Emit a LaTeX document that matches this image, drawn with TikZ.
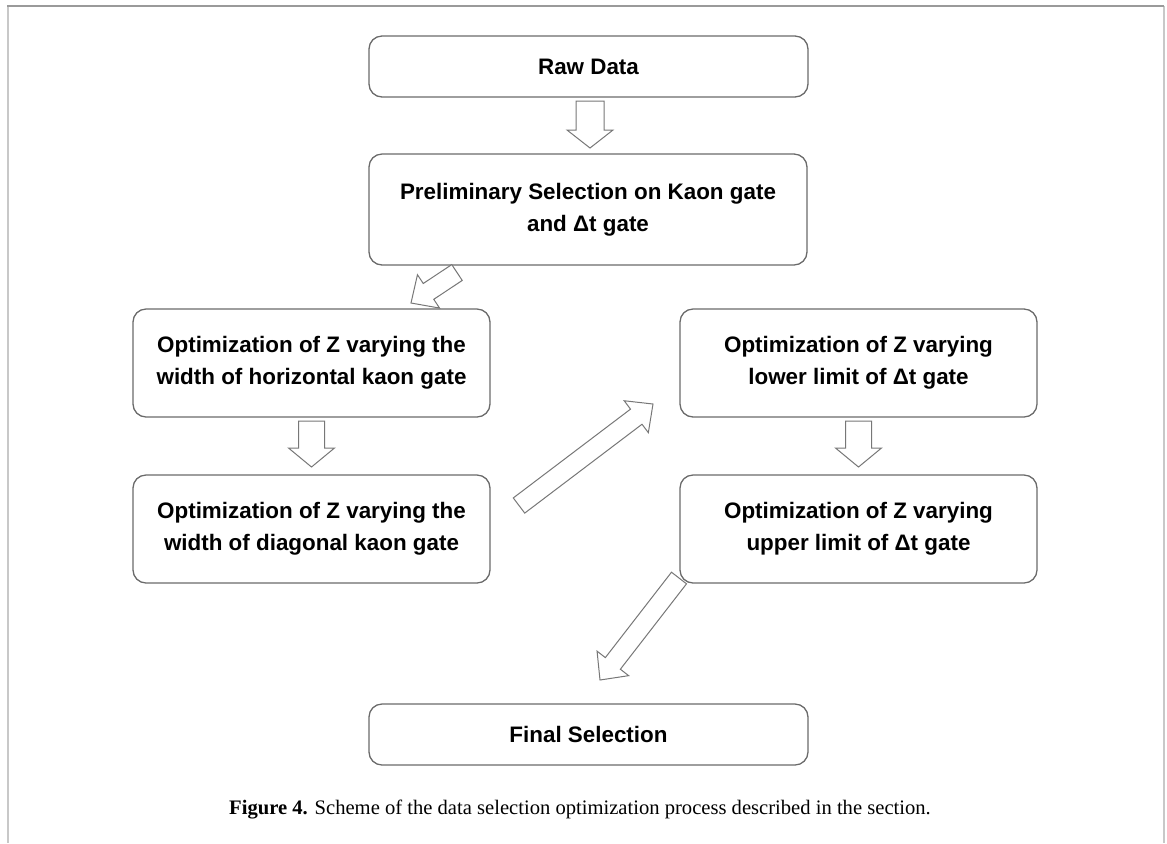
\documentclass[tikz,border=0pt]{standalone}
\usepackage{fontspec}
\setmainfont{Liberation Serif}
\setsansfont{Liberation Sans}
\usetikzlibrary{calc}

\definecolor{boxgray}{HTML}{6A6A6A}
\definecolor{arrgray}{HTML}{777777}
\definecolor{topgray}{HTML}{9A9A9A}
\definecolor{sidegray}{HTML}{C8C8C8}

\tikzset{
  stagebox/.style={draw=boxgray,line width=0.65pt,rounded corners=6.5pt,
    inner sep=0pt,outer sep=0pt,align=center,
    font=\sffamily\bfseries\fontsize{11.2pt}{16pt}\selectfont},
  blk/.style={draw=arrgray,line width=0.5pt,line join=miter,fill=white}
}

% hollow block arrow: tail, tip, shaft half width, head half width, head length
\newcommand{\blockarrow}[5]{%
  \coordinate (ba-t) at (#1);%
  \coordinate (ba-p) at (#2);%
  \coordinate (ba-h) at ($(ba-p)!#5!(ba-t)$);%
  \draw[blk] ($(ba-t)!#3!90:(ba-p)$) -- ($(ba-h)!#3!-90:(ba-t)$)
    -- ($(ba-h)!#4!-90:(ba-t)$) -- (ba-p) -- ($(ba-h)!#4!90:(ba-t)$)
    -- ($(ba-h)!#3!90:(ba-t)$) -- ($(ba-t)!#3!-90:(ba-p)$) -- cycle;%
}

\begin{document}
\begin{tikzpicture}[x=0.5pt,y=-0.5pt]
      \useasboundingbox (0,0) rectangle (1167,843);%

      \draw[sidegray,line width=1pt] (7.5,6) -- (7.5,843);%
      \draw[sidegray,line width=1pt] (1163.5,6) -- (1163.5,843);%
      \draw[topgray,line width=0.9pt] (7,6) -- (1164,6);%

      \node[stagebox,minimum width=219.5pt,minimum height=30.5pt] (raw) at (588.5,66.5) {Raw Data};%
      \node[stagebox,minimum width=219pt,minimum height=55.5pt] (prelim) at (588,209.5)
        {Preliminary Selection on Kaon gate\\and Δt gate};%

      \node[stagebox,minimum width=178.5pt,minimum height=54pt] (horiz) at (311.5,363)
        {Optimization of Z varying the\\width of horizontal kaon gate};%
      \node[stagebox,minimum width=178.5pt,minimum height=54pt] (diag) at (311.5,529)
        {Optimization of Z varying the\\width of diagonal kaon gate};%

      \node[stagebox,minimum width=178.5pt,minimum height=54pt] (lower) at (858.5,363)
        {Optimization of Z varying\\lower limit of Δt gate};%
      \node[stagebox,minimum width=178.5pt,minimum height=54pt] (upper) at (858.5,529)
        {Optimization of Z varying\\upper limit of Δt gate};%

      \node[stagebox,minimum width=219.5pt,minimum height=30.5pt] (final) at (588.5,734.5) {Final Selection};%

      \blockarrow{$(raw.south)+(1.5,4)$}{$(prelim.north)+(2,-6)$}{7pt}{11.5pt}{9pt}%
      \blockarrow{$(prelim.south west)+(88,7.5)$}{$(horiz.north east)+(-79,-6)$}{4.75pt}{10pt}{10.5pt}%
      \blockarrow{$(horiz.south)+(0,4)$}{$(diag.north)+(0,-8)$}{6.5pt}{11.5pt}{9.5pt}%
      \blockarrow{$(diag.north east)+(29,30.5)$}{$(lower.south west)+(-27,-13)$}{4.75pt}{10pt}{10.5pt}%
      \blockarrow{$(lower.south)+(0,4)$}{$(upper.north)+(0,-8)$}{6.5pt}{11.5pt}{9.5pt}%
      \blockarrow{$(upper.south west)+(-1,-5)$}{$(final.north west)+(231,-24)$}{4.75pt}{10pt}{10.5pt}%

      \node[anchor=base,inner sep=0pt] (cap) at (580,814)
        {\fontsize{10.3pt}{12pt}\selectfont\textbf{Figure 4.} Scheme of the data selection optimization process described in the section.};%
\end{tikzpicture}
\end{document}
